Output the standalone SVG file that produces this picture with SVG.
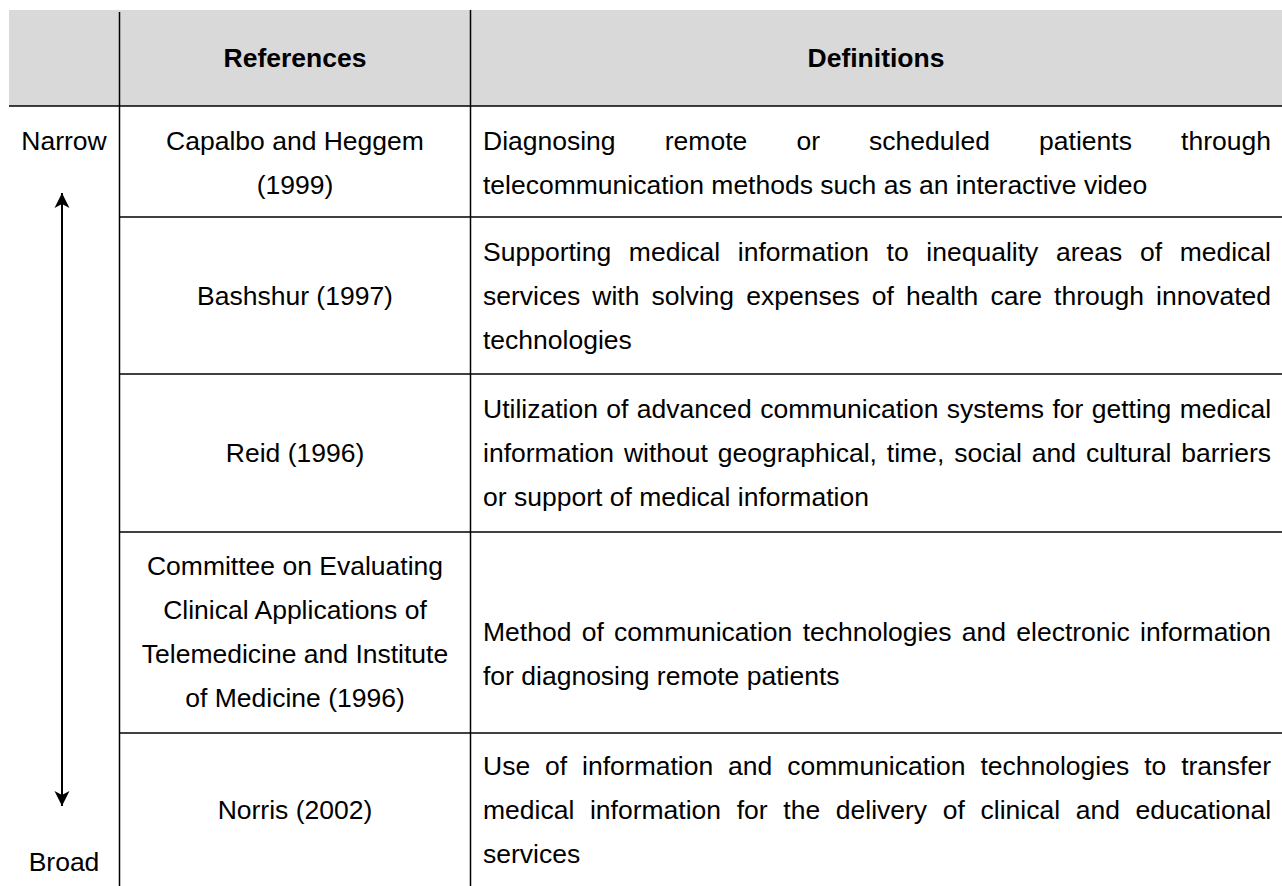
<svg xmlns="http://www.w3.org/2000/svg" width="1282" height="886" viewBox="0 0 1282 886">
<style>
  .t { font-family: "Liberation Sans", Arial, sans-serif; font-size: 26.5px; fill: #000; }
  .c { text-anchor: middle; }
  .h { font-weight: bold; }
  .g { stroke: #000; stroke-width: 1.5; fill: none; }
  .ar { stroke: #000; stroke-width: 2; }
</style>
<defs>
  <marker id="ah" markerUnits="userSpaceOnUse" markerWidth="16" markerHeight="16" viewBox="0 0 16 16" refX="15" refY="8" orient="auto-start-reverse">
    <path d="M0,0.5 L15,8 L0,15.5 L4,8 z" fill="#000"/>
  </marker>
</defs>
<rect x="0" y="0" width="1282" height="886" fill="#fff"/>

<g id="grid">
  <rect x="9" y="10" width="1273" height="96" fill="#d9d9d9"/>
  <line class="g" x1="9" y1="106" x2="1282" y2="106"/>
  <line class="g" x1="119.5" y1="12" x2="119.5" y2="886"/>
  <line class="g" x1="470.5" y1="10" x2="470.5" y2="886"/>
  <line class="g" x1="119" y1="217" x2="1282" y2="217"/>
  <line class="g" x1="119" y1="374" x2="1282" y2="374"/>
  <line class="g" x1="119" y1="532" x2="1282" y2="532"/>
  <line class="g" x1="119" y1="733" x2="1282" y2="733"/>
</g>

<g id="header">
  <text class="t c h" x="295" y="67">References</text>
  <text class="t c h" x="876" y="67">Definitions</text>
</g>

<g id="scale">
  <text class="t c" x="64" y="150">Narrow</text>
  <text class="t c" x="64" y="871">Broad</text>
</g>

<g id="connectors">
  <line class="ar" x1="62" y1="193" x2="62" y2="806" marker-start="url(#ah)" marker-end="url(#ah)"/>
</g>

<g id="row1">
  <text class="t c" x="295" y="150">Capalbo and Heggem</text>
  <text class="t c" x="295" y="194">(1999)</text>
  <text class="t" x="483" y="150" style="word-spacing:41.8px">Diagnosing remote or scheduled patients through</text>
  <text class="t" x="483" y="194">telecommunication methods such as an interactive video</text>
</g>

<g id="row2">
  <text class="t c" x="295" y="305">Bashshur (1997)</text>
  <text class="t" x="483" y="261" style="word-spacing:10.3px">Supporting medical information to inequality areas of medical</text>
  <text class="t" x="483" y="305" style="word-spacing:4.78px">services with solving expenses of health care through innovated</text>
  <text class="t" x="483" y="349">technologies</text>
</g>

<g id="row3">
  <text class="t c" x="295" y="462">Reid (1996)</text>
  <text class="t" x="483" y="418" style="word-spacing:1.06px">Utilization of advanced communication systems for getting medical</text>
  <text class="t" x="483" y="462" style="word-spacing:2.53px">information without geographical, time, social and cultural barriers</text>
  <text class="t" x="483" y="506">or support of medical information</text>
</g>

<g id="row4">
  <text class="t c" x="295" y="575">Committee on Evaluating</text>
  <text class="t c" x="295" y="619">Clinical Applications of</text>
  <text class="t c" x="295" y="663">Telemedicine and Institute</text>
  <text class="t c" x="295" y="707">of Medicine (1996)</text>
  <text class="t" x="483" y="641" style="word-spacing:2.95px">Method of communication technologies and electronic information</text>
  <text class="t" x="483" y="685">for diagnosing remote patients</text>
</g>

<g id="row5">
  <text class="t c" x="295" y="819">Norris (2002)</text>
  <text class="t" x="483" y="775" style="word-spacing:7.57px">Use of information and communication technologies to transfer</text>
  <text class="t" x="483" y="819" style="word-spacing:8.29px">medical information for the delivery of clinical and educational</text>
  <text class="t" x="483" y="863">services</text>
</g>
</svg>
